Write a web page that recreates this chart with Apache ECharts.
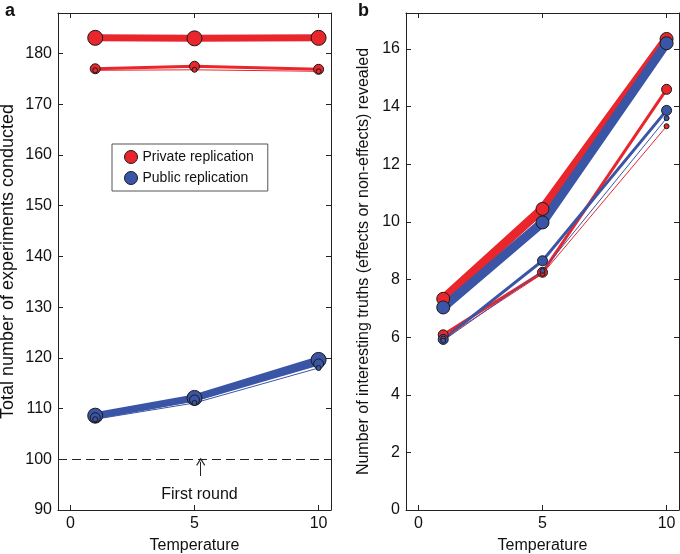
<!DOCTYPE html>
<html>
<head>
<meta charset="utf-8">
<script src="https://cdn.jsdelivr.net/npm/echarts@6/dist/echarts.min.js"></script>
<style>
  html, body { margin: 0; padding: 0; background: #fff; }
  #chart { width: 680px; height: 554px; }
</style>
</head>
<body>
<div id="chart"></div>
<script>
// temperatures where runs were evaluated
const temps = [1, 5, 10];
const xTicks = [0, 5, 10];
const yTicksA = [90, 100, 110, 120, 130, 140, 150, 160, 170, 180];
const yTicksB = [0, 2, 4, 6, 8, 10, 12, 14, 16];

// panel a: total number of experiments conducted
const privLargeA = [183.1, 183.0, 183.1];
const privMidA = [177.0, 177.5, 176.9];
const privSmallA = [176.7, 176.8, 176.5];
const pubLargeA = [108.6, 112.1, 119.6];
const pubMidA = [108.2, 111.7, 118.8];
const pubSmallA = [107.9, 111.1, 118.0];

// panel b: number of interesting truths revealed
const privLargeB = [7.33, 10.45, 16.35];
const privMidB = [6.08, 8.25, 14.6];
const privSmallB = [5.95, 8.2, 13.32];
const pubLargeB = [7.03, 9.98, 16.2];
const pubMidB = [5.92, 8.65, 13.87];
const pubSmallB = [5.88, 8.3, 13.6];

// "First round" annotation (panel a)
const firstRound = 100;
const arrowX = 5.25;

const RED = '#e8262b';
const BLUE = '#3a55a5';
const FONT = 'Liberation Sans, Arial, sans-serif';

const pairs = (vals) => temps.map((t, i) => [t, vals[i]]);

const lineSeries = (name, vals, panel, color, width, size, extra) => Object.assign({
    name: name,
    type: 'line',
    xAxisIndex: panel * 2,
    yAxisIndex: panel * 2,
    data: pairs(vals),
    symbol: 'circle',
    symbolSize: size,
    showSymbol: true,
    lineStyle: { color: color, width: width },
    itemStyle: { color: color, borderColor: '#1a1a1a', borderWidth: 1 },
    emphasis: { disabled: true },
    z: 3
}, extra || {});

const axisCommon = (min, max, ticks, showLabel) => ({
    type: 'value',
    min: min,
    max: max,
    axisLine: { show: true, onZero: false, lineStyle: { color: '#222', width: 1 } },
    axisTick: { show: true, inside: true, length: 5, customValues: ticks, lineStyle: { color: '#222' } },
    axisLabel: { show: showLabel, customValues: ticks, fontSize: 16, color: '#111', fontFamily: FONT, margin: 6 },
    splitLine: { show: false }
});

const xBottom = (grid, name) => Object.assign(axisCommon(-0.5, 10.5, xTicks, true), {
    gridIndex: grid, position: 'bottom',
    name: name, nameLocation: 'middle', nameGap: 28,
    nameTextStyle: { fontSize: 16, color: '#111', fontFamily: FONT }
});
const xTop = (grid) => Object.assign(axisCommon(-0.5, 10.5, xTicks, false), { gridIndex: grid, position: 'top' });
const yLeft = (grid, min, max, ticks, name, gap, size) => Object.assign(axisCommon(min, max, ticks, true), {
    gridIndex: grid, position: 'left',
    name: name, nameLocation: 'middle', nameGap: gap, nameRotate: 90,
    nameTextStyle: { fontSize: size, color: '#111', fontFamily: FONT }
});
const yRight = (grid, min, max, ticks) => Object.assign(axisCommon(min, max, ticks, false), { gridIndex: grid, position: 'right' });

const getOption = () => {
    return {
        animation: false,
        textStyle: { fontFamily: FONT },
        title: [
            { text: 'a', left: 0, top: -3, textStyle: { fontSize: 18, fontWeight: 'bold', color: '#111', fontFamily: FONT } },
            { text: 'b', left: 353, top: -3, textStyle: { fontSize: 18, fontWeight: 'bold', color: '#111', fontFamily: FONT } }
        ],
        grid: [
            { left: 58, top: 13, width: 273, height: 497, outerBoundsMode: 'none' },
            { left: 406, top: 13, width: 273, height: 497, outerBoundsMode: 'none' }
        ],
        legend: {
            data: ['Private replication', 'Public replication'],
            orient: 'vertical',
            left: 112,
            top: 144,
            padding: [6, 14, 6, 12],
            itemGap: 7,
            itemWidth: 13,
            itemHeight: 13,
            icon: 'circle',
            itemStyle: { borderColor: '#1a1a1a', borderWidth: 1 },
            borderColor: '#555',
            borderWidth: 1,
            backgroundColor: '#fff',
            selectedMode: false,
            textStyle: { fontSize: 14, color: '#111', fontFamily: FONT }
        },
        xAxis: [xBottom(0, 'Temperature'), xTop(0), xBottom(1, 'Temperature'), xTop(1)],
        yAxis: [
            yLeft(0, 90, 188, yTicksA, 'Total number of experiments conducted', 41, 18),
            yRight(0, 90, 188, yTicksA),
            yLeft(1, 0, 17.25, yTicksB, 'Number of interesting truths (effects or non-effects) revealed', 34, 16),
            yRight(1, 0, 17.25, yTicksB)
        ],
        series: [
            lineSeries('Private replication', privLargeA, 0, RED, 7, 15, {
                markLine: {
                    silent: true,
                    symbol: ['none', 'none'],
                    label: { show: false },
                    lineStyle: { color: '#222', width: 1, type: [9, 5] },
                    data: [
                        { yAxis: firstRound },
                        [
                            { coord: [arrowX, 96.7], symbol: 'none', lineStyle: { type: 'solid' } },
                            { coord: [arrowX, 99.5], symbol: 'path://M0,9 L5,0 L10,9 L9,10 L5,2.6 L1,10 Z', symbolSize: [9, 8], lineStyle: { type: 'solid' } }
                        ]
                    ]
                },
                markPoint: {
                    silent: true,
                    symbol: 'circle',
                    symbolSize: 0,
                    label: { show: true, formatter: 'First round', fontSize: 16, color: '#111', fontFamily: FONT, position: 'inside' },
                    data: [{ coord: [5.2, 93.1] }]
                }
            }),
            lineSeries('Public replication', pubLargeA, 0, BLUE, 7, 15),
            lineSeries('priv-mid-a', privMidA, 0, RED, 3, 10),
            lineSeries('pub-mid-a', pubMidA, 0, BLUE, 3, 10),
            lineSeries('priv-small-a', privSmallA, 0, RED, 1, 5),
            lineSeries('pub-small-a', pubSmallA, 0, BLUE, 1, 5),

            lineSeries('priv-large-b', privLargeB, 1, RED, 9, 13),
            lineSeries('pub-large-b', pubLargeB, 1, BLUE, 9, 13),
            lineSeries('priv-mid-b', privMidB, 1, RED, 3, 10),
            lineSeries('pub-mid-b', pubMidB, 1, BLUE, 3, 10),
            lineSeries('priv-small-b', privSmallB, 1, RED, 1, 5),
            lineSeries('pub-small-b', pubSmallB, 1, BLUE, 1, 5)
        ]
    };
};

window.addEventListener('load', () => {
    const chart = echarts.init(document.getElementById('chart'), null, { renderer: 'canvas' });
    chart.setOption(getOption());
});
</script>
</body>
</html>
